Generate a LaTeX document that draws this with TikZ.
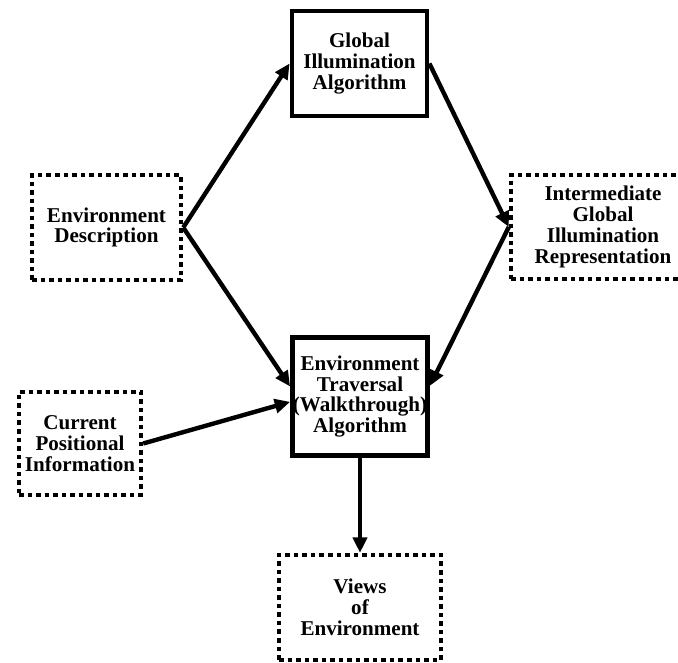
\documentclass[tikz,border=0pt]{standalone}
\usepackage{fontspec}
\setmainfont{Liberation Serif}
\usetikzlibrary{arrows.meta}

\begin{document}
\begin{tikzpicture}[x=0.75pt,y=-0.75pt,
  algo/.style={draw, line width=3.6pt, align=center, inner sep=0pt,
    font=\bfseries\fontsize{15.8}{15.6}\selectfont},
  data/.style={draw, line width=3.3pt, dash pattern=on 3.4pt off 3pt, align=center, inner sep=0pt,
    font=\bfseries\fontsize{15.8}{15.6}\selectfont},
  flow/.style={line width=3.3pt, -{Triangle[length=11.5pt,width=10.5pt]}}]
\useasboundingbox (0,0) rectangle (678,663);
\clip (0,0) rectangle (678,663);

\node[algo, minimum width=101.25pt, minimum height=78.75pt] (gia) at (359.5,63.5) {Global\\Illumination\\Algorithm};
\node[data, minimum width=111.75pt, minimum height=78.75pt] (envdesc) at (106.5,227.5) {Environment\\Description};
\node[data, minimum width=138pt, minimum height=78pt] (inter) at (603,227) {Intermediate\\Global\\Illumination\\Representation};
\node[algo, minimum width=101.25pt, minimum height=88.5pt] (trav) at (360,396.5) {Environment\\Traversal\\(Walkthrough)\\Algorithm};
\node[data, minimum width=91.5pt, minimum height=77.25pt] (curpos) at (80,443.5) {Current\\Positional\\Information};
\node[data, minimum width=121.5pt, minimum height=78.75pt] (views) at (360,607.5) {Views\\of\\Environment};

\draw[flow] (envdesc.east) -- (gia.west);
\draw[flow] (envdesc.east) -- ([yshift=7.5pt]trav.west);
\draw[flow] (gia.east) -- (inter.west);
\draw[flow] (inter.west) -- ([yshift=8pt]trav.east);
\draw[flow] (curpos.east) -- ([yshift=-4pt]trav.west);
\draw[flow] (trav.south) -- (views.north);
\end{tikzpicture}
\end{document}
